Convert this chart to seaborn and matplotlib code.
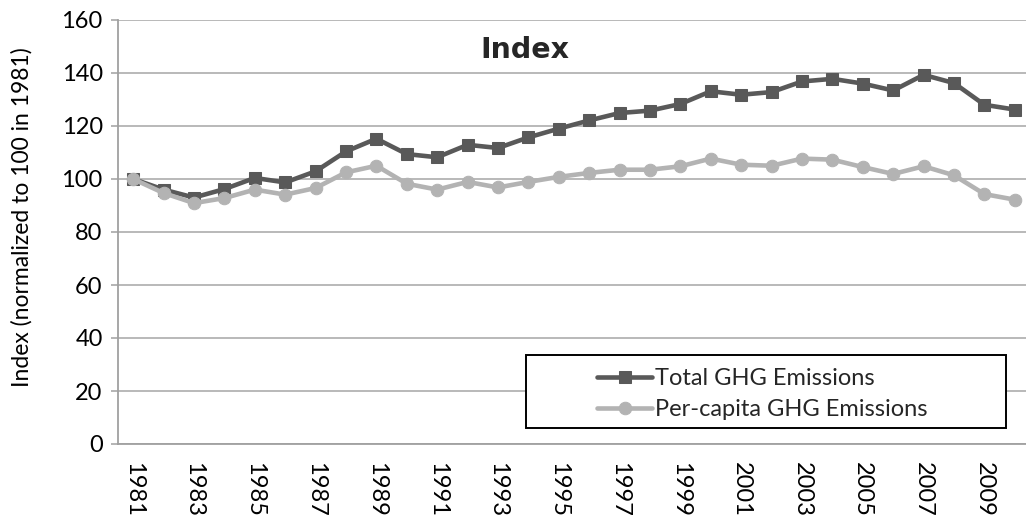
import seaborn as sns
import pandas as pd
import numpy as np
import matplotlib.pyplot as plt
from matplotlib.patches import Rectangle

# data
years = [1981, 1982, 1983, 1984, 1985, 1986, 1987, 1988, 1989, 1990,
         1991, 1992, 1993, 1994, 1995, 1996, 1997, 1998, 1999, 2000,
         2001, 2002, 2003, 2004, 2005, 2006, 2007, 2008, 2009, 2010]
total_ghg = [100, 96, 93, 96.2, 100.4, 98.7, 102.9, 110.4, 115.2, 109.4,
             108.2, 112.9, 111.7, 115.7, 119, 122.1, 124.9, 125.8, 128.3, 133.1,
             131.8, 132.8, 136.8, 137.8, 136, 133.4, 139.3, 136.2, 128, 126.2]
per_capita_ghg = [100, 94.7, 90.9, 92.8, 96, 94.1, 96.6, 102.5, 105, 98.2,
                  96, 98.9, 96.8, 98.9, 100.8, 102.3, 103.5, 103.5, 104.8, 107.7,
                  105.4, 105, 107.7, 107.3, 104.5, 101.9, 104.8, 101.4, 94.3, 92.2]
series_names = ['Total GHG Emissions', 'Per-capita GHG Emissions']
label_years = [y for y in years if y % 2 == 1]

df = pd.DataFrame({'year': years, 'total': total_ghg, 'percap': per_capita_ghg})

sns.set_style('white')
plt.rcParams['font.family'] = ['Lato', 'DejaVu Sans']

W, H = 1026, 522
fig = plt.figure(figsize=(W / 100, H / 100), dpi=100)
ax = fig.add_axes([118 / W, (H - 444) / H, 912 / W, 424 / H])

dark = '#595959'
light = '#b3b3b3'
sns.lineplot(data=df, x='year', y='total', ax=ax, color=dark, lw=3.3,
             marker='s', markersize=8.5, markeredgecolor=dark, label=series_names[0])
sns.lineplot(data=df, x='year', y='percap', ax=ax, color=light, lw=3.3,
             marker='o', markersize=9, markeredgecolor=light, label=series_names[1])

ax.set_xlim(years[0] - 0.5, years[-1] + 0.5)
ax.set_ylim(0, 160)
ax.set_yticks(np.arange(0, 161, 20))
ax.yaxis.grid(True, color='#a6a6a6', lw=1.1)
ax.set_axisbelow(True)

ax.set_xticks(label_years)
ax.set_xticklabels([str(y) for y in label_years], rotation=270, va='top', ha='center')
ax.set_xticks([y - 0.5 for y in years] + [years[-1] + 0.5], minor=True)
ax.tick_params(axis='x', which='major', length=0, pad=13, labelsize=17, labelcolor='black')
ax.tick_params(axis='x', which='minor', length=6, width=1.1, color='#a0a0a0', direction='out')
ax.tick_params(axis='y', length=5, width=1.1, color='#a0a0a0', pad=6, labelsize=17,
               labelcolor='black', left=True)

for s in ['top', 'right']:
    ax.spines[s].set_visible(False)
for s in ['left', 'bottom']:
    ax.spines[s].set_color('#a0a0a0')
    ax.spines[s].set_linewidth(1.3)

ax.set_xlabel('')
ax.set_ylabel('Index (normalized to 100 in 1981)', fontsize=16.5, color='black', va='center')
ax.yaxis.set_label_coords(-0.105, 0.535)

fig.text(525 / W, 1 - 50 / H, 'Index', fontsize=20.5, fontweight='bold',
         family='DejaVu Sans', ha='center', va='center')

# legend box like the spreadsheet one
ax.add_patch(Rectangle((526 / W, (H - 428) / H), 480 / W, 73 / H, transform=fig.transFigure,
                       facecolor='white', edgecolor='black', lw=1.4, zorder=4, clip_on=False))
ax.legend(loc='center left', bbox_to_anchor=(597 / W, 1 - 394 / H), bbox_transform=fig.transFigure,
          frameon=False, fontsize=17, handlelength=2.35, handletextpad=0.1,
          labelspacing=0.43, borderpad=0, borderaxespad=0)

fig.savefig('out.png', dpi=100)
